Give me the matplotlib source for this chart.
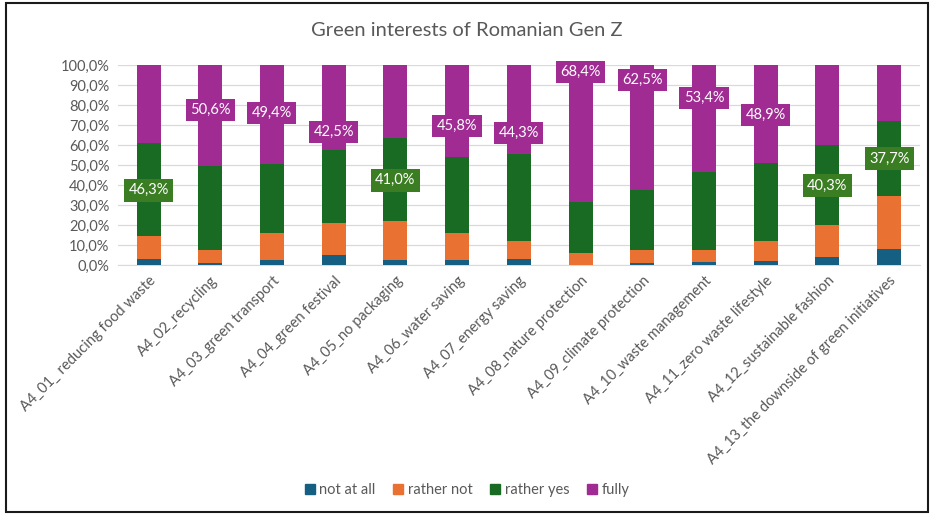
import matplotlib
matplotlib.use("Agg")
import matplotlib.pyplot as plt
from matplotlib.patches import Rectangle, Patch
import numpy as np

plt.rcParams['font.family'] = ['Lato', 'DejaVu Sans']

# data (shares in %)
categories = [
    "A4_01_ reducing food waste", "A4_02_recycling", "A4_03_green transport",
    "A4_04_green festival", "A4_05_no packaging", "A4_06_water saving",
    "A4_07_energy saving", "A4_08_nature protection", "A4_09_climate protection",
    "A4_10_waste management", "A4_11_zero waste lifestyle",
    "A4_12_sustainable fashion", "A4_13_the downside of green initiatives",
]
not_at_all = [3.2, 1.2, 2.8, 5.3, 2.5, 2.8, 3.0, 0.3, 1.0, 1.5, 2.2, 4.2, 8.3]
rather_not = [11.6, 6.6, 13.2, 15.9, 19.8, 13.5, 9.1, 5.7, 6.7, 6.3, 9.9, 15.7, 26.2]
rather_yes = [46.3, 41.6, 34.6, 36.3, 41.0, 37.9, 43.6, 25.6, 29.8, 38.8, 39.0, 40.3, 37.7]
fully = [38.9, 50.6, 49.4, 42.5, 36.7, 45.8, 44.3, 68.4, 62.5, 53.4, 48.9, 39.8, 27.8]

# which segment carries the visible label, and where the label box sits
label_series = ["yes", "fully", "fully", "fully", "yes", "fully", "fully",
                "fully", "fully", "fully", "fully", "yes", "yes"]
label_y = [37.5, 77.5, 76, 66.5, 42.5, 69.5, 66, 96.5, 92.5, 83.5, 75, 39.8, 53.2]

colors = {"na": "#156082", "rn": "#E97132", "yes": "#196B24", "fully": "#A02B93"}
label_box = {"yes": "#3B7D23", "fully": "#A02B93"}
grey = "#595959"

fig = plt.figure(figsize=(9.34, 5.16), dpi=100)
ax = fig.add_axes([0.126, 0.486, 0.859, 0.388])

x = np.arange(len(categories))
w = 0.39
b1 = np.array(not_at_all)
b2 = b1 + np.array(rather_not)
b3 = b2 + np.array(rather_yes)
ax.bar(x, not_at_all, w, color=colors["na"], zorder=3)
ax.bar(x, rather_not, w, bottom=b1, color=colors["rn"], zorder=3)
ax.bar(x, rather_yes, w, bottom=b2, color=colors["yes"], zorder=3)
ax.bar(x, fully, w, bottom=b3, color=colors["fully"], zorder=3)

for i, s in enumerate(label_series):
    v = rather_yes[i] if s == "yes" else fully[i]
    ax.text(x[i], label_y[i], f"{v:.1f}%".replace(".", ","), ha="center", va="center",
            color="white", fontsize=10.5, zorder=5,
            bbox=dict(boxstyle="square,pad=0.3", fc=label_box[s], ec="none"))

ax.set_xlim(-0.5, 12.5)
ax.set_ylim(0, 100)
ax.set_yticks(np.arange(0, 101, 10))
ax.set_yticklabels([f"{t:.1f}%".replace(".", ",") for t in range(0, 101, 10)])
ax.set_xticks(x)
ax.set_xticklabels(categories, rotation=45, ha="right", rotation_mode="anchor")
ax.tick_params(length=0, labelsize=10.5, colors=grey, pad=6)
ax.yaxis.grid(True, color="#D9D9D9", linewidth=0.9, zorder=0)
for side in ["top", "right", "left"]:
    ax.spines[side].set_visible(False)
ax.spines["bottom"].set_color("#D9D9D9")

fig.text(0.5, 0.94, "Green interests of Romanian Gen Z", ha="center", va="center",
         fontsize=14.5, color=grey)

handles = [Patch(color=colors[k]) for k in ["na", "rn", "yes", "fully"]]
fig.legend(handles, ["not at all", "rather not", "rather yes", "fully"],
           loc="center", bbox_to_anchor=(0.5, 0.05), ncol=4, frameon=False,
           handlelength=0.7, handleheight=0.7, handletextpad=0.3,
           columnspacing=1.2, fontsize=10.5, labelcolor=grey)

fig.patches.append(Rectangle((0.006, 0.007), 0.988, 0.987, transform=fig.transFigure,
                             fill=False, ec="#1a1a1a", lw=1.5))

fig.savefig("out.png", dpi=100)
